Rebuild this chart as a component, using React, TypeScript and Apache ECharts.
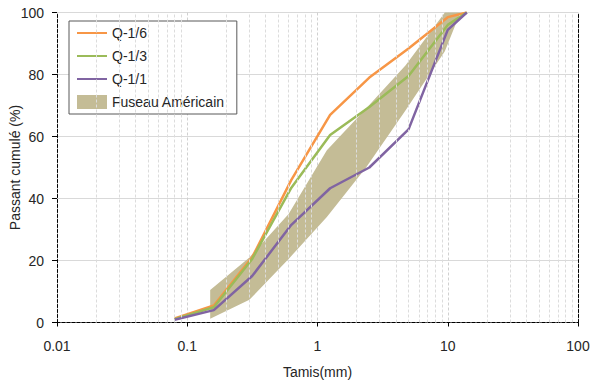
import React, { useEffect, useRef } from "react";
import * as echarts from "echarts";

// Sieve sizes (mm) for the three gradings
const sieveLines = [0.08, 0.16, 0.315, 0.63, 1.25, 2.5, 5, 10, 14];
const q16 = [1.3, 5.5, 21, 46, 67, 79, 88.4, 98.5, 100];
const q13 = [1.1, 4.9, 20.5, 43.5, 60.5, 69.5, 79.5, 96, 100];
const q11 = [0.9, 4, 15, 31.5, 43.3, 50, 62.3, 94.4, 100];

// American envelope (Fuseau Américain)
const bandSieves = [0.15, 0.3, 0.6, 1.18, 2.36, 4.75, 9.5, 12.5];
const bandLower = [1.2, 7.3, 20.5, 34, 50, 68.5, 87.5, 100];
const bandUpper = [10.5, 21, 35, 55.6, 69, 83, 100, 100];

// Log-scale minor grid positions
const minorGrid = [
  0.02, 0.03, 0.04, 0.05, 0.06, 0.07, 0.08, 0.09,
  0.2, 0.3, 0.4, 0.5, 0.6, 0.7, 0.8, 0.9,
  2, 3, 4, 5, 6, 7, 8, 9,
  20, 30, 40, 50, 60, 70, 80, 90,
];

const seriesNames = ["Q-1/6", "Q-1/3", "Q-1/1", "Fuseau Américain"];
const colors = ["#F79646", "#9BBB59", "#8064A2", "#C4BC96"];

const FONT = "Liberation Sans";
const TEXT = "#262626";

export default function App() {
  const ref = useRef<HTMLDivElement>(null);
  useEffect(() => {
    if (!ref.current) return;
    const chart = echarts.init(ref.current, null, { renderer: "svg" });
    const dashed = { color: "#000", type: [3, 2] as any, width: 1 };
    const mkLine = (name: string, vals: number[], color: string) => ({
      name,
      type: "line",
      z: 4,
      symbol: "none",
      data: sieveLines.map((x, i) => [x, vals[i]]),
      lineStyle: { color, width: 2.5 },
      itemStyle: { color },
    });
    chart.setOption({
      animation: false,
      textStyle: { fontFamily: FONT },
      grid: {
        left: 57,
        right: 14,
        top: 12.5,
        bottom: 57.5,
        containLabel: false,
        outerBoundsMode: "none",
      },
      legend: {
        data: [
          { name: seriesNames[0], itemStyle: { opacity: 0 } },
          { name: seriesNames[1], itemStyle: { opacity: 0 } },
          { name: seriesNames[2], itemStyle: { opacity: 0 } },
          { name: seriesNames[3], icon: "rect" },
        ],
        orient: "vertical",
        left: 69,
        top: 21,
        itemWidth: 30,
        itemHeight: 14,
        itemGap: 9,
        padding: [5, 12, 5, 7],
        borderColor: "#595959",
        borderWidth: 1,
        backgroundColor: "#fff",
        textStyle: { fontSize: 14, color: TEXT, fontFamily: FONT },
      },
      xAxis: [
        {
          type: "log",
          logBase: 10,
          min: 0.01,
          max: 100,
          name: "Tamis(mm)",
          nameLocation: "middle",
          nameGap: 42,
          nameMoveOverlap: false,
          nameTextStyle: { fontSize: 14, color: TEXT, fontFamily: FONT },
          axisLine: { show: true, lineStyle: dashed },
          axisTick: { show: true, length: 4, lineStyle: { color: "#000" } },
          axisLabel: { fontSize: 14, color: TEXT, margin: 16, fontFamily: FONT },
          splitLine: { show: true, lineStyle: { color: "#D0D0D0", type: [3, 2], width: 1 } },
        },
        {
          type: "log",
          logBase: 10,
          min: 0.01,
          max: 100,
          position: "top",
          axisLine: { show: true, lineStyle: dashed },
          axisTick: { show: false },
          axisLabel: { show: false },
          splitLine: { show: false },
        },
      ],
      yAxis: [
        {
          type: "value",
          min: 0,
          max: 100,
          interval: 20,
          name: "Passant cumulé (%)",
          nameLocation: "middle",
          nameGap: 35,
          nameMoveOverlap: false,
          nameTextStyle: { fontSize: 14, color: TEXT, fontFamily: FONT },
          axisLine: { show: true, lineStyle: dashed },
          axisTick: { show: true, length: 5, lineStyle: { color: "#000" } },
          axisLabel: { fontSize: 14, color: TEXT, margin: 13, fontFamily: FONT },
          splitLine: { show: true, lineStyle: { color: "#D9D9D9", width: 1 } },
        },
        {
          type: "value",
          min: 0,
          max: 100,
          position: "right",
          axisLine: { show: true, lineStyle: dashed },
          axisTick: { show: false },
          axisLabel: { show: false },
          splitLine: { show: false },
        },
      ],
      series: [
        {
          name: "minor-grid",
          type: "line",
          z: 1,
          data: [],
          silent: true,
          markLine: {
            silent: true,
            symbol: ["none", "none"],
            label: { show: false },
            lineStyle: { color: "#DCDCDC", type: [3, 2], width: 1 },
            data: minorGrid.map((v) => ({ xAxis: v })),
          },
        },
        {
          name: seriesNames[3],
          type: "custom",
          z: 2,
          itemStyle: { color: colors[3] },
          encode: { x: 0, y: [1, 2] },
          data: bandSieves.map((x, i) => [x, bandLower[i], bandUpper[i]]),
          renderItem: (params: any, api: any) => {
            if (params.dataIndex !== 0) return null;
            const pts: number[][] = [];
            for (let i = 0; i < bandSieves.length; i++) pts.push(api.coord([bandSieves[i], bandUpper[i]]));
            for (let i = bandSieves.length - 1; i >= 0; i--) pts.push(api.coord([bandSieves[i], bandLower[i]]));
            return {
              type: "polygon",
              shape: { points: pts },
              style: { fill: colors[3], stroke: "none" },
            };
          },
        },
        mkLine(seriesNames[0], q16, colors[0]),
        mkLine(seriesNames[1], q13, colors[1]),
        mkLine(seriesNames[2], q11, colors[2]),
      ],
    });
    return () => chart.dispose();
  }, []);
  return (
    <div
      ref={ref}
      style={{ position: "fixed", left: 0, top: 0, width: 592, height: 380, background: "#fff" }}
    />
  );
}
